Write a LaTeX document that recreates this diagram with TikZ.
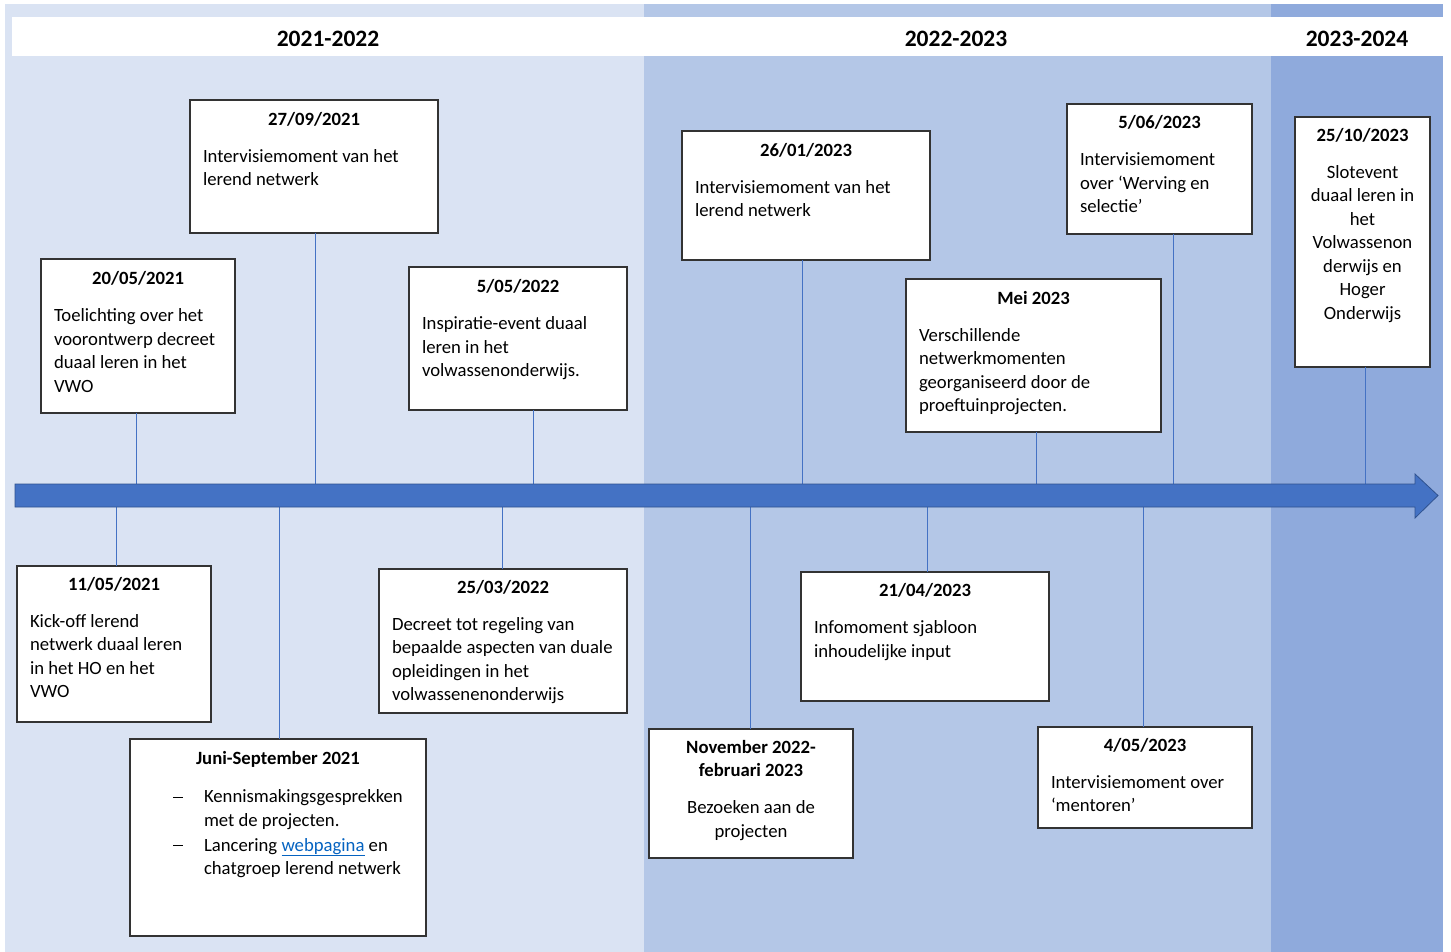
\documentclass[tikz,border=0pt]{standalone}
\usepackage{fontspec}
\setmainfont{Carlito}
\usetikzlibrary{calc}
\definecolor{pA}{HTML}{DAE3F3}
\definecolor{pB}{HTML}{B4C7E7}
\definecolor{pC}{HTML}{8FAADC}
\definecolor{arrowfill}{HTML}{4472C4}
\definecolor{arrowline}{HTML}{2F528F}
\definecolor{tickblue}{HTML}{4472C4}
\definecolor{boxline}{HTML}{333333}
\definecolor{linkblue}{HTML}{0563C1}
\newcommand\evfont{\fontsize{18.7}{23.5}\selectfont}
\newcommand\evhdr[1]{{\centering\bfseries #1\par}\vspace{13.5pt}}
\newcommand\evdash{\llap{\rule[0.27em]{10pt}{0.9pt}\hspace{21pt}}}
\begin{document}
\begin{tikzpicture}[x=1pt,y=-1pt,
  evbox/.style={draw=boxline, fill=white, line width=1.1pt, anchor=north west, inner sep=0pt, outer sep=0pt},
  evtext/.style={inner sep=0pt, anchor=base, font=\evfont, text=black},
  tick/.style={draw=tickblue, line width=0.9pt},
  yearlbl/.style={font=\fontsize{23.5}{28}\selectfont\bfseries, inner sep=0pt, text=black}]
\useasboundingbox (0,0) rectangle (1451,952);
\fill[white] (0,0) rectangle (1451,952);
% period panels
\fill[pA] (5,4) rectangle (644,952);
\fill[pB] (644,4) rectangle (1271,952);
\fill[pC] (1271,4) rectangle (1443,952);
\fill[white] (12,17) rectangle (1443,56);
\node[yearlbl] (y1) at (328,38.5) {2021-2022};
\node[yearlbl] (y2) at (956,38.5) {2022-2023};
\node[yearlbl] (y3) at (1357,38.5) {2023-2024};
% boxes
\node[evbox, minimum width=248, minimum height=133] (b1) at (190,100) {};
\node[evbox, minimum width=194, minimum height=154] (b2) at (41,259) {};
\node[evbox, minimum width=218, minimum height=143] (b3) at (409,267) {};
\node[evbox, minimum width=248, minimum height=129] (b4) at (682,131) {};
\node[evbox, minimum width=255, minimum height=153] (b5) at (906,279) {};
\node[evbox, minimum width=185, minimum height=130] (b6) at (1067,104) {};
\node[evbox, minimum width=135, minimum height=250] (b7) at (1295,117) {};
\node[evbox, minimum width=194, minimum height=156] (b8) at (17,566) {};
\node[evbox, minimum width=296, minimum height=197] (b9) at (130,739) {};
\node[evbox, minimum width=248, minimum height=144] (b10) at (379,569) {};
\node[evbox, minimum width=204, minimum height=129] (b11) at (649,729) {};
\node[evbox, minimum width=248, minimum height=129] (b12) at (801,572) {};
\node[evbox, minimum width=214, minimum height=101] (b13) at (1038,727) {};
% tick connectors
\coordinate (t1) at (315,484);
\coordinate (t2) at (136,484);
\coordinate (t3) at (533,484);
\coordinate (t4) at (802,484);
\coordinate (t5) at (1036.5,484);
\coordinate (t6) at (1173,484);
\coordinate (t7) at (1365,484);
\coordinate (t8) at (116.5,507);
\coordinate (t9) at (279,507);
\coordinate (t10) at (502,507);
\coordinate (t11) at (750,507);
\coordinate (t12) at (927.5,507);
\coordinate (t13) at (1143.5,507);
\foreach \i in {1,...,7} {\draw[tick] (t\i |- b\i.south) -- (t\i);}
\foreach \i in {8,...,13} {\draw[tick] (t\i) -- (t\i |- b\i.north);}
% timeline arrow
\path[fill=arrowfill, draw=arrowline, line width=0.8pt]
  (15,484) -- (1415,484) -- (1415,474) -- (1438,495.5) -- (1415,518) -- (1415,507) -- (15,507) -- cycle;
% texts
\node[evtext] (x1) at ($(b1.north)+(0,25.5)$) {\parbox[t]{222pt}{\evhdr{27/09/2021}\raggedright Intervisiemoment van het\\lerend netwerk}};
\node[evtext] (x2) at ($(b2.north)+(0,25.5)$) {\parbox[t]{168pt}{\evhdr{20/05/2021}\raggedright Toelichting over het\\voorontwerp decreet\\duaal leren in het\\VWO}};
\node[evtext] (x3) at ($(b3.north)+(0,25.5)$) {\parbox[t]{192pt}{\evhdr{5/05/2022}\raggedright Inspiratie-event duaal\\leren in het\\volwassenonderwijs.}};
\node[evtext] (x4) at ($(b4.north)+(0,25.5)$) {\parbox[t]{222pt}{\evhdr{26/01/2023}\raggedright Intervisiemoment van het\\lerend netwerk}};
\node[evtext] (x5) at ($(b5.north)+(0,25)$) {\parbox[t]{229pt}{\evhdr{Mei 2023}\raggedright Verschillende\\netwerkmomenten\\georganiseerd door de\\proeftuinprojecten.}};
\node[evtext] (x6) at ($(b6.north)+(0,25)$) {\parbox[t]{159pt}{\evhdr{5/06/2023}\raggedright Intervisiemoment\\over ‘Werving en\\selectie’}};
\node[evtext] (x7) at ($(b7.north)+(0,24.5)$) {\parbox[t]{125pt}{\evhdr{25/10/2023}\centering Slotevent\\duaal leren in\\het\\Volwassenon\\derwijs en\\Hoger\\Onderwijs}};
\node[evtext] (x8) at ($(b8.north)+(0,24)$) {\parbox[t]{168pt}{\evhdr{11/05/2021}\raggedright Kick-off lerend\\netwerk duaal leren\\in het HO en het\\VWO}};
\node[evtext] (x9) at ($(b9.north)+(0,25)$) {\parbox[t]{296pt}{\evhdr{Juni-September 2021}\vspace{1.5pt}\raggedright\leftskip=74pt
  \noindent\evdash Kennismakingsgesprekken\\met de projecten.\par\vspace{1.5pt}
  \noindent\evdash Lancering \textcolor{linkblue}{\underline{webpagina}} en\\chatgroep lerend netwerk}};
\node[evtext] (x10) at ($(b10.north)+(0,24)$) {\parbox[t]{222pt}{\evhdr{25/03/2022}\raggedright Decreet tot regeling van\\bepaalde aspecten van duale\\opleidingen in het\\volwassenenonderwijs}};
\node[evtext] (x11) at ($(b11.north)+(0,24)$) {\parbox[t]{190pt}{{\centering\bfseries November 2022-\\februari 2023\par}\vspace{13.5pt}\centering Bezoeken aan de\\projecten}};
\node[evtext] (x12) at ($(b12.north)+(0,24.5)$) {\parbox[t]{222pt}{\evhdr{21/04/2023}\raggedright Infomoment sjabloon\\inhoudelijke input}};
\node[evtext] (x13) at ($(b13.north)+(0,24)$) {\parbox[t]{188pt}{\evhdr{4/05/2023}\raggedright Intervisiemoment over\\‘mentoren’}};
\end{tikzpicture}
\end{document}
